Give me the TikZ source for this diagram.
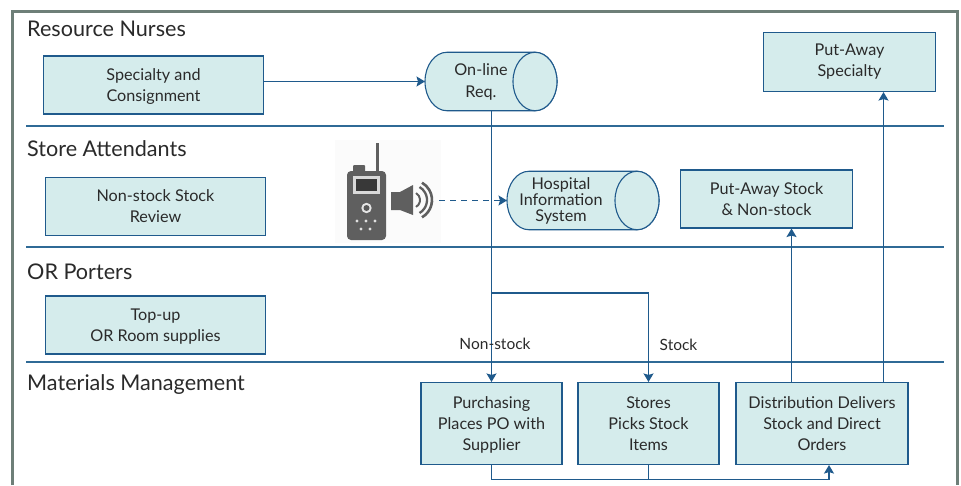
\documentclass[tikz,border=0pt]{standalone}
\usepackage{fontspec}
\setmainfont{Lato}
\usetikzlibrary{arrows.meta}
\definecolor{bluel}{HTML}{1F5A8C}
\definecolor{lane}{HTML}{2F6A96}
\definecolor{fillb}{HTML}{D5ECEC}
\definecolor{framec}{HTML}{6E7F78}
\definecolor{txt}{HTML}{2A2A2A}
\definecolor{radio}{HTML}{5F5F5F}
\tikzset{
 proc/.style={draw=bluel,line width=1.1pt,fill=fillb,text=txt,align=center,font=\fontsize{16.2}{21}\selectfont,inner sep=0pt,minimum width=#1},
 heading/.style={anchor=base west,text=txt,font=\fontsize{21.6}{24}\selectfont,inner sep=0pt},
 lab/.style={anchor=base,text=txt,font=\fontsize{15.5}{18}\selectfont,inner sep=0pt},
 conn/.style={draw=bluel,line width=1.3pt},
 arr/.style={conn,-{Stealth[length=8.5pt,width=10pt,inset=1.5pt]}},
 lanes/.style={draw=lane,line width=1.1pt},
 cylbox/.style={inner sep=0pt,outer sep=0pt,minimum height=58.5pt},
 cylline/.style={draw=bluel,line width=1.1pt,fill=fillb},
 cyltext/.style={anchor=center,text=txt,align=center,inner sep=0pt},
}
\newcommand{\drawcyl}[1]{%
  \draw[cylline] ([xshift=-22pt]#1.north east) -- ([xshift=22pt]#1.north west)
    arc[start angle=90,end angle=270,x radius=22pt,y radius=29.25pt]
    -- ([xshift=-22pt]#1.south east)
    arc[start angle=270,end angle=450,x radius=22pt,y radius=29.25pt] -- cycle;
  \draw[cylline] ([xshift=-22pt]#1.east) circle[x radius=22pt,y radius=29.25pt];
}
\begin{document}
\begin{tikzpicture}[x=1pt,y=-1pt]
\useasboundingbox (0,0) rectangle (961,485);
\fill[white] (0,0) rectangle (961,485);
\draw[framec,line width=2.4pt] (12.5,485) -- (12.5,11.5) -- (957.5,11.5) -- (957.5,485);
% lanes
\coordinate (l1a) at (26,126); \coordinate (l1b) at (944,126);
\coordinate (l2a) at (26,247); \coordinate (l2b) at (944,247);
\coordinate (l3a) at (26,362); \coordinate (l3b) at (944,362);
\draw[lanes] (l1a)--(l1b); \draw[lanes] (l2a)--(l2b); \draw[lanes] (l3a)--(l3b);
% headings
\node[heading] (h1) at (27,36.7) {Resource Nurses};
\node[heading] (h2) at (27,156.7) {Store Attendants};
\node[heading] (h3) at (27,279.7) {OR Porters};
\node[heading] (h4) at (27,390.7) {Materials Management};
% boxes
\node[proc=220pt,minimum height=58pt,text depth=0pt] (spec) at (153.5,85) {Specialty and\\Consignment};
\node[proc=220pt,minimum height=58pt] (nons) at (155.5,206.5) {Non-stock Stock\\Review};
\node[proc=220pt,minimum height=58pt,text depth=0pt] (top) at (155.5,325) {Top-up\\OR Room supplies};
\node[proc=172pt,minimum height=59pt] (pas) at (849.5,62) {Put-Away\\Specialty};
\node[proc=172pt,minimum height=58pt] (pan) at (766.5,199) {Put-Away Stock\\\& Non-stock};
\node[proc=141pt,minimum height=82pt,text depth=0pt] (pur) at (491.5,423.5) {Purchasing\\Places PO with\\Supplier};
\node[proc=141pt,minimum height=82pt,text depth=0pt] (sto) at (648.5,423.5) {Stores\\Picks Stock\\Items};
\node[proc=172pt,minimum height=82pt,text depth=0pt] (dis) at (822,423.5) {Distribution Delivers\\Stock and Direct\\Orders};
\coordinate (j) at (491.5,293);
\coordinate (d1) at (791.5,300);
\coordinate (d2) at (883.5,300);
% cylinders
\node[cylbox,minimum width=132pt] (onl) at (491,81.5) {};
\drawcyl{onl}
\node[cyltext,font=\fontsize{16.2}{21.5}\selectfont] (onlt) at (481,82) {On-line\\Req.};
\node[cylbox,minimum width=152pt] (his) at (583,200.5) {};
\drawcyl{his}
\node[cyltext,font=\fontsize{16.2}{16.2}\selectfont] (hist) at (561,201) {Hospital\\Information\\System};
% radio icon
\fill[gray!3] (335,140) rectangle (441,243);
\fill[radio] (375.5,143) rectangle (378.5,172);
\fill[radio,rounded corners=1pt] (353,165) rectangle (365,173);
\fill[radio,rounded corners=4pt] (347,171) rectangle (386,240);
\fill[gray!30] (353,176) rectangle (380,194);
\fill[black!78] (356,179) rectangle (377,191);
\fill[white!90!black] (366.5,208) circle[radius=5.2pt];
\fill[black!65] (366.5,208) circle[radius=3pt];
\foreach \p/\q in {357/221,366/221,375/221,361/229,370/229}{\fill[white!88!black] (\p,\q) circle[radius=1.7pt];}
\fill[radio] (391,192) -- (400,192) -- (413,185) -- (413,215) -- (400,210) -- (391,210) -- cycle;
\foreach \rr/\ww in {8/2,15/2.3,20/2.6}{
  \draw[radio,line width=\ww pt] (412,200) ++(-60:\rr pt) arc[start angle=-60,end angle=60,radius=\rr pt];
}
\coordinate (spk) at (439,200.5);
% connectors
\draw[arr] (spec.east|-onl.west) -- (onl.west);
\draw[arr,dash pattern=on 6pt off 5pt] (spk) -- (his.west);
\draw[arr] (pur.north|-onl.south) -- (pur.north);
\draw[arr] (j) -| (sto.north);
\draw[arr] (d1|-dis.north) -- (d1|-pan.south);
\draw[arr] (d2|-dis.north) -- (d2|-pas.south);
\coordinate (bot) at (491.5,479.5);
\coordinate (botr) at (829,479.5);
\draw[conn] (pur.south) -- (bot) -- (botr);
\draw[conn] (sto.south) -- (sto.south|-bot);
\draw[arr] (botr) -- (botr|-dis.south);
% labels
\node[lab] (l1) at (495,349) {Non-stock};
\node[lab] (l2) at (678.5,350) {Stock};
\end{tikzpicture}
\end{document}
